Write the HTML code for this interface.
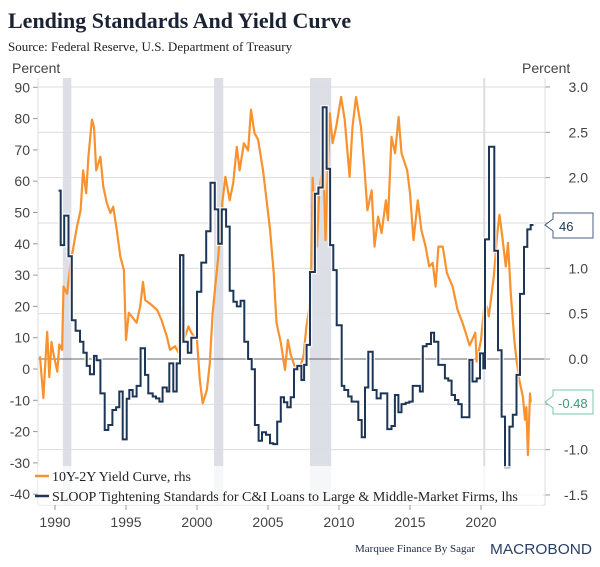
<!DOCTYPE html>
<html><head><meta charset="utf-8"><style>
body{margin:0;background:#fff;}
svg{display:block;font-family:"Liberation Sans",sans-serif;}
</style></head><body>
<svg id="chart" width="600" height="567" viewBox="0 0 600 567">
<text x="8" y="28" font-family="Liberation Serif" font-weight="bold" font-size="22" fill="#1a2233">Lending Standards And Yield Curve</text>
<text x="8" y="51" font-family="Liberation Serif" font-size="13" fill="#222">Source: Federal Reserve, U.S. Department of Treasury</text>
<text x="12" y="73" font-size="14" fill="#444">Percent</text>
<text x="522" y="73" font-size="14" fill="#444">Percent</text>
<g id="bands"></g><g id="grid"></g><g id="axes"></g><g id="series"></g>
<g>
<rect x="38" y="466" width="505" height="39" fill="#fff" fill-opacity="0.75"/>
<line x1="35" y1="476" x2="49" y2="476" stroke="#f7922e" stroke-width="2.5"/>
<text x="52" y="481" font-family="Liberation Serif" font-size="14" fill="#222">10Y-2Y Yield Curve, rhs</text>
<line x1="35" y1="496" x2="49" y2="496" stroke="#1d3557" stroke-width="2.5"/>
<text x="52" y="501" font-family="Liberation Serif" font-size="14" fill="#222">SLOOP Tightening Standards for C&amp;I Loans to Large &amp; Middle-Market Firms, lhs</text>
</g>
<g>
<path d="M545,225 L553,219 L553,213 L593,213 L593,238 L553,238 L553,231 Z" fill="#fff" stroke="#4a5f80" stroke-width="1"/>
<text x="559" y="231" font-size="13" fill="#1d3557">46</text>
</g>
<g>
<path d="M545,402 L553,396 L553,390 L593,390 L593,414 L553,414 L553,408 Z" fill="#fff" stroke="#7cc4a8" stroke-width="1"/>
<text x="558" y="408" font-size="13" fill="#3a9a7a">-0.48</text>
</g>
<text x="355" y="552" font-family="Liberation Serif" font-size="11" fill="#1d2a4a">Marquee Finance By Sagar</text>
<text x="490" y="554" font-size="15" fill="#2a3f66" textLength="102" lengthAdjust="spacingAndGlyphs">MACROBOND</text>
</svg>
<script>
const leftTicks=[90,80,70,60,50,40,30,20,10,0,-10,-20,-30,-40];
const rightTicks=[3.0,2.5,2.0,1.5,1.0,0.5,0.0,-0.5,-1.0,-1.5];
const yearTicks=[1990,1995,2000,2005,2010,2015,2020];
const recStart=[1990.55,2001.2,2007.95,2020.15];
const recEnd=[1991.15,2001.85,2009.45,2020.3];
const sloopYears=[1990.25,1990.4,1990.65,1990.95,1991.18,1991.45,1991.76,1992.0,1992.23,1992.46,1992.75,1992.93,1993.2,1993.5,1993.75,1994.04,1994.3,1994.53,1994.77,1995.05,1995.23,1995.47,1995.75,1996.03,1996.34,1996.57,1996.88,1997.11,1997.35,1997.58,1997.87,1998.05,1998.33,1998.57,1998.8,1999.04,1999.35,1999.6,2000.0,2000.3,2000.65,2000.95,2001.25,2001.5,2001.75,2002.05,2002.3,2002.56,2002.8,2003.07,2003.33,2003.6,2003.85,2004.08,2004.34,2004.58,2004.86,2005.14,2005.37,2005.65,2005.9,2006.13,2006.36,2006.6,2006.83,2007.06,2007.35,2007.54,2007.72,2007.96,2008.3,2008.55,2008.85,2009.13,2009.37,2009.6,2009.84,2010.19,2010.37,2010.65,2010.89,2011.36,2011.6,2011.83,2012.06,2012.37,2012.65,2012.94,2013.4,2013.7,2013.94,2014.18,2014.4,2014.7,2014.95,2015.19,2015.7,2015.9,2016.17,2016.48,2016.7,2016.99,2017.46,2017.7,2017.93,2018.17,2018.4,2018.64,2019.18,2019.4,2019.7,2019.93,2020.16,2020.28,2020.56,2020.94,2021.2,2021.45,2021.69,2022.0,2022.24,2022.5,2022.75,2023.03,2023.26,2023.5];
const sloopValues=[57,39.6,49,36,15.6,12.2,8.7,5.2,1,-1.7,4.2,2.8,-7.8,-19.5,-17.9,-13.1,-12.2,-7.2,-22.5,-9.5,-6.7,-8.8,-5.4,6.6,-1.9,-7.8,-8.8,-9.4,-10.4,-5.9,-7.2,1.8,-7.2,1.8,36.4,8.7,5.2,10,24.7,34,44,59.5,51,40,51,45.5,25,21.5,20,21.8,8.7,3.2,-0.1,-17.9,-22.9,-20.2,-21,-23.7,-24,-16.8,-9,-10.6,-12.2,-9,-0.1,1,-3.5,1.3,7.7,31,56,58,83.6,64,39.6,31.6,14,-5.4,-6.7,-8.8,-10.4,-16.3,-21.8,-5.9,5.5,-6.7,-9.4,-7.8,-19.2,-18.2,-8.3,-13.8,-11.2,-10.8,-10.4,-5.4,-7.2,7.3,8,11.6,8.7,1.3,-3,-3.7,-8.3,-9.9,-11.2,-15.4,2.9,-4,-3,5,0.2,41.4,71,37.8,6,-15.2,-31.6,-18.4,-14.6,-1.9,24,39,44.6,46];
const sloopEnd=2023.7;
const curveYears=[1988.94,1989.18,1989.3,1989.45,1989.6,1989.75,1989.9,1990.16,1990.3,1990.5,1990.6,1990.85,1991.1,1991.3,1991.55,1991.8,1991.98,1992.2,1992.35,1992.6,1992.75,1992.9,1993.2,1993.4,1993.65,1993.9,1994.1,1994.35,1994.6,1994.85,1995.0,1995.2,1995.4,1995.75,1996.0,1996.2,1996.35,1996.7,1997.2,1997.5,1997.87,1998.1,1998.45,1998.7,1998.85,1999.0,1999.4,1999.6,2000.0,2000.2,2000.4,2000.7,2000.9,2001.1,2001.25,2001.5,2001.8,2002.0,2002.3,2002.55,2002.8,2003.0,2003.3,2003.6,2003.8,2004.05,2004.3,2004.65,2004.9,2005.15,2005.4,2005.6,2005.9,2006.2,2006.4,2006.6,2006.85,2007.2,2007.5,2007.7,2007.96,2008.05,2008.15,2008.3,2008.45,2008.6,2008.9,2009.05,2009.35,2009.55,2009.8,2010.15,2010.4,2010.75,2010.95,2011.2,2011.55,2011.8,2012.0,2012.3,2012.5,2012.75,2013.0,2013.3,2013.45,2013.7,2013.95,2014.2,2014.4,2014.8,2015.0,2015.25,2015.55,2015.8,2016.1,2016.35,2016.6,2016.8,2017.0,2017.3,2017.6,2018.0,2018.35,2018.7,2019.0,2019.2,2019.6,2019.7,2020.0,2020.2,2020.4,2020.55,2020.9,2021.15,2021.3,2021.5,2021.75,2021.9,2022.1,2022.35,2022.5,2022.7,2022.95,2023.1,2023.2,2023.3,2023.45,2023.5];
const curveValues=[0.03,-0.43,-0.08,0.3,-0.2,0.19,0.05,-0.14,0.16,0.1,0.8,0.72,1.06,1.24,1.46,1.64,2.08,1.83,2.23,2.64,2.56,2.08,2.23,1.9,1.72,1.61,1.68,1.42,1.13,0.98,0.21,0.51,0.47,0.4,0.58,0.85,0.65,0.61,0.54,0.43,0.25,0.1,0.14,0.07,0.58,0.18,0.36,0.29,0.21,-0.23,-0.49,-0.34,-0.05,0.5,0.75,1.13,1.75,2.01,1.75,1.94,2.34,2.08,2.38,2.3,2.75,2.49,2.42,2.08,1.75,1.42,0.95,0.4,0.18,-0.12,0.21,0.05,-0.07,-0.12,0.03,0.35,0.62,1.0,2.0,1.53,1.24,1.83,2.19,1.31,2.71,2.38,2.56,2.89,2.64,2.01,2.56,2.89,2.56,2.08,1.64,1.86,1.24,1.57,1.39,1.75,1.53,2.45,2.27,2.67,2.27,2.08,1.83,1.31,1.75,1.42,1.24,1.02,1.06,0.8,1.24,1.24,0.95,0.8,0.54,0.4,0.25,0.15,0.29,-0.03,0.21,0.54,0.58,0.47,0.91,1.39,1.59,1.35,1.02,1.28,0.72,0.2,-0.01,-0.23,-0.42,-0.67,-0.53,-1.06,-0.38,-0.48];

const NS='http://www.w3.org/2000/svg';
const xS=y=>55+(y-1990)*14.2;
const yL=v=>369-v*3.13;
const yR=v=>359-v*90.67;
function mk(tag,attrs,parent){const e=document.createElementNS(NS,tag);for(const k in attrs)e.setAttribute(k,attrs[k]);parent.appendChild(e);return e;}
const bands=document.getElementById('bands'),grid=document.getElementById('grid'),axes=document.getElementById('axes'),series=document.getElementById('series');
recStart.forEach((s,i)=>{
  const r=mk('rect',{x:xS(s),y:78,width:Math.max(2,xS(recEnd[i])-xS(s)),height:427,fill:'#dcdfe6'},bands);
  
  
});
rightTicks.forEach(v=>{
  const y=yR(v);
  const l=mk('line',{x1:38,x2:545,y1:y,y2:y,stroke:v===0?'#666':'#ddd','stroke-width':1},grid);
  
  
  mk('line',{x1:545,x2:550,y1:y,y2:y,stroke:'#999'},axes);
  const t=mk('text',{x:588,y:y+5,'text-anchor':'end','font-size':14,fill:'#444'},axes);
  t.textContent=v.toFixed(1);
  
  
});
leftTicks.forEach(v=>{
  const y=yL(v);
  mk('line',{x1:33,x2:38,y1:y,y2:y,stroke:'#999'},axes);
  const t=mk('text',{x:30,y:y+5,'text-anchor':'end','font-size':14,fill:'#444'},axes);
  t.textContent=v;
  
  
});
mk('line',{x1:38,x2:38,y1:78,y2:505,stroke:'#ddd'},axes);
mk('line',{x1:545,x2:545,y1:78,y2:505,stroke:'#ddd'},axes);
mk('line',{x1:38,x2:545,y1:505,y2:505,stroke:'#ddd'},axes);
yearTicks.forEach(yr=>{
  const x=xS(yr);
  mk('line',{x1:x,x2:x,y1:505,y2:510,stroke:'#999'},axes);
  const t=mk('text',{x:x,y:527,'text-anchor':'middle','font-size':14,fill:'#444'},axes);
  t.textContent=yr;
  
  
});
let d='M'+xS(curveYears[0])+','+yR(curveValues[0]);
for(let i=1;i<curveYears.length;i++)d+=' L'+xS(curveYears[i]).toFixed(1)+','+yR(curveValues[i]).toFixed(1);
const oc=mk('path',{d:d,fill:'none',stroke:'#f7922e','stroke-width':2.2,'stroke-linejoin':'round'},series);


let s='M'+xS(sloopYears[0])+','+yL(sloopValues[0]);
for(let i=1;i<sloopYears.length;i++)s+=' H'+xS(sloopYears[i]).toFixed(1)+' V'+yL(sloopValues[i]).toFixed(1);
s+=' H'+xS(sloopEnd).toFixed(1);
mk('path',{d:s,fill:'none',stroke:'#fff','stroke-width':4.5,'stroke-opacity':0.8},series);
const sl=mk('path',{d:s,fill:'none',stroke:'#1d3557','stroke-width':2},series);


</script>
</body></html>
